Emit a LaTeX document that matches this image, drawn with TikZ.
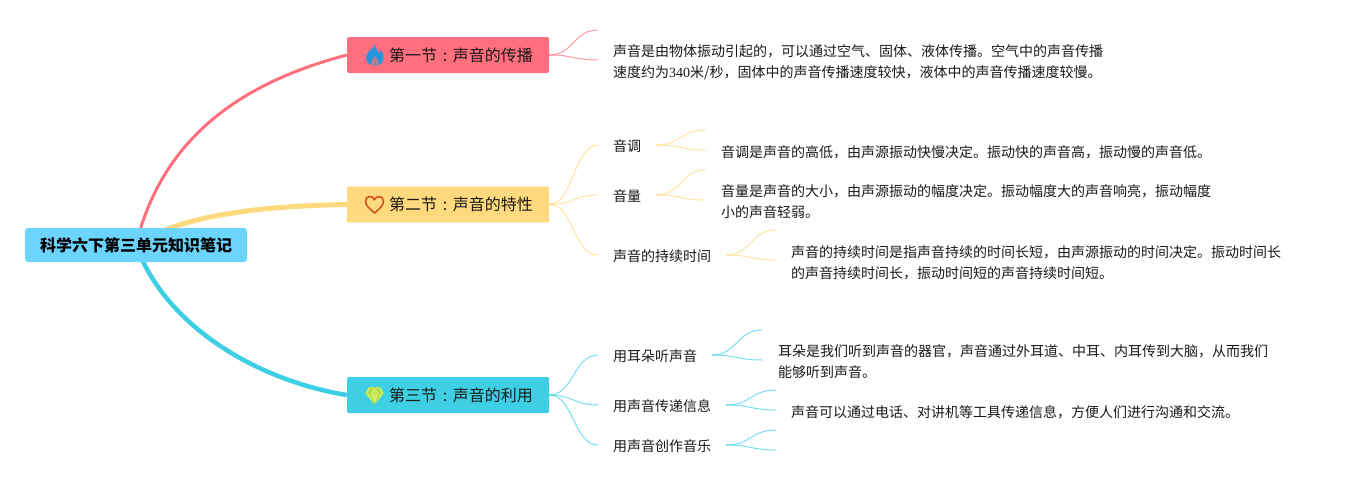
\documentclass[tikz,border=0pt]{standalone}
\usepackage{fontspec}
\setmainfont{Noto Sans CJK SC}
\newfontfamily\digitfont{Liberation Serif}
\usetikzlibrary{calc}
\definecolor{cpink}{HTML}{FF6F7D}
\definecolor{cyel}{HTML}{FFD97D}
\definecolor{ccyan}{HTML}{3ECFE4}
\definecolor{croot}{HTML}{6BD5FF}
\definecolor{cflame}{HTML}{2496DC}
\definecolor{cheart}{HTML}{D6481C}
\definecolor{cgem}{HTML}{CDEE5A}
\definecolor{cgemline}{HTML}{96C850}
\newcommand{\seccolon}{\makebox[16pt][c]{:}}
\tikzset{
  rootbox/.style={fill=croot,rounded corners=3pt,minimum width=222pt,minimum height=34pt,inner sep=0pt,font=\fontsize{16}{20}\selectfont\bfseries,text=black},
  secbox/.style={rounded corners=1.5pt,minimum width=202pt,minimum height=36pt,inner sep=0pt,font=\fontsize{16}{20}\selectfont,text=black!90},
  subtxt/.style={anchor=west,inner sep=0pt,font=\fontsize{14}{21}\selectfont,text=black!90},
  desc/.style={anchor=west,inner sep=0pt,align=left,font=\fontsize{14}{21}\selectfont,text=black!90},
  fork/.style={line width=1pt,opacity=.7},
}
\begin{document}
\begin{tikzpicture}[x=1pt,y=-1pt]
\useasboundingbox (0,0) rectangle (1351,485);
% section boxes
\node[secbox,fill=cpink] (s1) at (448,55) {\hspace{26pt}第一节\seccolon 声音的传播};
\node[secbox,fill=cyel] (s2) at (448,204.5) {\hspace{26pt}第二节\seccolon 声音的特性};
\node[secbox,fill=ccyan] (s3) at (448,395) {\hspace{26pt}第三节\seccolon 声音的利用};
\coordinate (hub) at (136,245);
% main branches
\draw[cpink,line width=3pt] (hub) .. controls (165,125) and (260,78) .. (s1.west);
\draw[cyel,line width=5pt] (hub) .. controls (175,218) and (250,206) .. (s2.west);
\draw[ccyan,line width=4.5pt] (hub) .. controls (165,325) and (255,380) .. (s3.west);
\node[rootbox] (root) at (hub) {科学六下第三单元知识笔记};
% sub topics
\node[subtxt] (t1) at (613,146) {音调};
\node[subtxt] (t2) at (613,196) {音量};
\node[subtxt] (t3) at (613,256) {声音的持续时间};
\node[subtxt] (u1) at (613,356) {用耳朵听声音};
\node[subtxt] (u2) at (613,406) {用声音传递信息};
\node[subtxt] (u3) at (613,446) {用声音创作音乐};
% descriptions
\node[desc] (d0) at (613,62) {声音是由物体振动引起的，可以通过空气、固体、液体传播。空气中的声音传播\\速度约为{\digitfont 340}米/秒，固体中的声音传播速度较快，液体中的声音传播速度较慢。};
\node[desc] (d1) at (721,152) {音调是声音的高低，由声源振动快慢决定。振动快的声音高，振动慢的声音低。};
\node[desc] (d2) at (721,202) {音量是声音的大小，由声源振动的幅度决定。振动幅度大的声音响亮，振动幅度\\小的声音轻弱。};
\node[desc] (d3) at (791,263) {声音的持续时间是指声音持续的时间长短，由声源振动的时间决定。振动时间长\\的声音持续时间长，振动时间短的声音持续时间短。};
\node[desc] (d4) at (778,362) {耳朵是我们听到声音的器官，声音通过外耳道、中耳、内耳传到大脑，从而我们\\能够听到声音。};
\node[desc] (d5) at (791,412) {声音可以通过电话、对讲机等工具传递信息，方便人们进行沟通和交流。};
% fork end points
\coordinate (a1) at (598,30); \coordinate (a2) at (598,60);
\coordinate (b1) at (598,145); \coordinate (b2) at (598,195); \coordinate (b3) at (598,255);
\coordinate (c1) at (598,355); \coordinate (c2) at (598,405); \coordinate (c3) at (598,445);
\coordinate (e1) at (706,130); \coordinate (e2) at (706,150);
\coordinate (f1) at (706,170); \coordinate (f2) at (706,200);
\coordinate (g1) at (776,230); \coordinate (g2) at (776,260);
\coordinate (h1) at (762,330); \coordinate (h2) at (762,360);
\coordinate (i1) at (776,390); \coordinate (i2) at (776,410);
\coordinate (j1) at (776,430); \coordinate (j2) at (776,450);
\coordinate (o1) at (656,145); \coordinate (o2) at (656,195); \coordinate (o3) at (726,255);
\coordinate (p1) at (712,355); \coordinate (p2) at (726,405); \coordinate (p3) at (726,445);
% forks
\foreach \s/\e/\c in {s1.east/a1/cpink,s1.east/a2/cpink,s2.east/b1/cyel,s2.east/b2/cyel,s2.east/b3/cyel,s3.east/c1/ccyan,s3.east/c2/ccyan,s3.east/c3/ccyan,o1/e1/cyel,o1/e2/cyel,o2/f1/cyel,o2/f2/cyel,o3/g1/cyel,o3/g2/cyel,p1/h1/ccyan,p1/h2/ccyan,p2/i1/ccyan,p2/i2/ccyan,p3/j1/ccyan,p3/j2/ccyan} {
  \draw[fork,\c] (\s) .. controls ($(\s)!.5!(\s -| \e)$) and ($(\e)!.5!(\e -| \s)$) .. (\e);}
% icons
\fill[cflame] (375,44.5) .. controls (376,50) and (378,51) .. (379,53) .. controls (380,52.5) and (380.5,51.5) .. (380.5,50) .. controls (383,53) and (384,56) .. (383.5,59) .. controls (383,63) and (379,65.5) .. (375,65.5) .. controls (370,65.5) and (366,62.5) .. (366,58) .. controls (366,54) and (369,51.5) .. (371,49.5) .. controls (372.5,48) and (374,46.5) .. (375,44.5) -- cycle;
\fill[cpink!65!cflame] (375,56) .. controls (377,58.5) and (379,60) .. (378.5,62.5) .. controls (378,64.5) and (376.5,65.5) .. (375,65.5) .. controls (372.5,65.5) and (371,64) .. (371,62) .. controls (371,59.5) and (373.5,58.5) .. (375,56) -- cycle;
\draw[line width=1.5pt,cheart] (374.5,213) .. controls (370,209) and (365.5,205.5) .. (365.5,201.5) .. controls (365.5,195.5) and (372.5,195) .. (374.5,199.5) .. controls (376.5,195) and (383.5,195.5) .. (383.5,201.5) .. controls (383.5,205.5) and (379,209) .. (374.5,213) -- cycle;
\fill[cgem] (369,387) -- (380,387) -- (384,393) -- (374.5,404.5) -- (365,393) -- cycle;
\draw[line width=.5pt,cgemline] (365,393) -- (384,393) (371,387) -- (369,393) -- (374.5,404.5) -- (380,393) -- (378,387) (369,393) -- (374.5,387) -- (380,393);
\end{tikzpicture}
\end{document}
